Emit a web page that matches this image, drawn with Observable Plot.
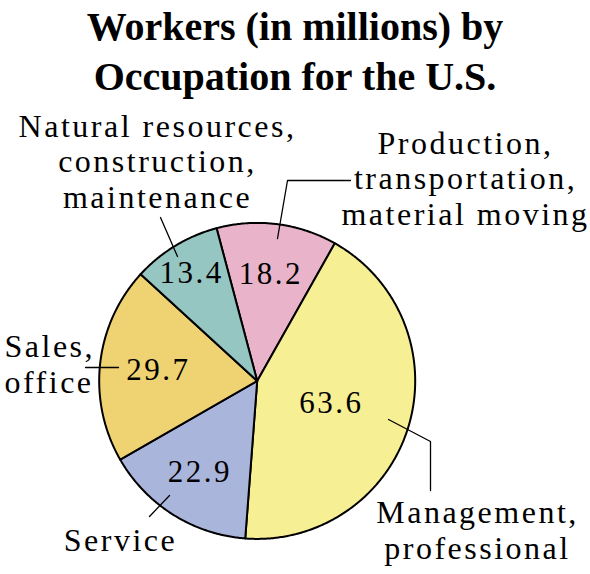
<!DOCTYPE html>
<html><head><meta charset="utf-8">
<script src="https://cdn.jsdelivr.net/npm/d3@7"></script>
<script src="https://cdn.jsdelivr.net/npm/@observablehq/plot@0.6"></script>
<style>
html,body{margin:0;padding:0;background:#fff;}
#title{width:590px;height:100px;box-sizing:border-box;padding-top:2px;text-align:center;font-family:'Liberation Serif','Times New Roman',serif;font-weight:bold;font-size:40px;line-height:50px;color:#000;}
#chart svg text{letter-spacing:2.5px;}
#chart svg g[font-size="32"] text{letter-spacing:2.5px;}
</style></head><body>
<div id="title">Workers (in millions) by<br>Occupation for the U.S.</div>
<div id="chart"></div>
<script>
// ---- data ----
const categories = ["Production", "Management", "Service", "Sales", "Natural resources"];
const labelTexts = [
  "Production,\ntransportation,\nmaterial moving",
  "Management,\nprofessional",
  "Service",
  "Sales,\noffice",
  "Natural resources,\nconstruction,\nmaintenance"
];
const workers = [18.2, 63.6, 22.9, 29.7, 13.4];
const colors = ["#e9b4c9", "#f7ef93", "#aab5dc", "#efd272", "#95c6c2"];

// ---- layout (pixels) ----
const W = 590, H = 474, TOP = 100;
const cx = 256.7, cy = 380.4, R = 158;
const startDeg = -14.9;
const valueRadius = [0.68, 0.49, 0.68, 0.63, 0.80];
const labelPos = [
  {x: 465, y: 224, anchor: "middle"},
  {x: 477, y: 558, anchor: "middle"},
  {x: 120, y: 550, anchor: "middle"},
  {x: 4, y: 392, anchor: "start"},
  {x: 157, y: 207, anchor: "middle"}
];
const leaders = [
  [[350, 180], [287, 180], [277, 238]],
  [[388, 419], [430, 441], [430, 490]],
  [[149, 516], [169, 495]],
  [[85, 367], [118, 367]],
  [[160, 217], [177, 256]]
];

// ---- geometry ----
const a0 = startDeg * Math.PI / 180;
const arcs = d3.pie().sort(null).startAngle(a0).endAngle(a0 + 2 * Math.PI)(workers);
const slicePts = [];
arcs.forEach((a, i) => {
  const cat = categories[i];
  slicePts.push({cat, x: cx, y: cy});
  const n = Math.max(2, Math.ceil((a.endAngle - a.startAngle) / (0.5 * Math.PI / 180)));
  for (let k = 0; k <= n; k++) {
    const t = a.startAngle + (a.endAngle - a.startAngle) * k / n;
    slicePts.push({cat, x: cx + R * Math.sin(t), y: cy - R * Math.cos(t)});
  }
});
const valuePts = arcs.map((a, i) => {
  const m = (a.startAngle + a.endAngle) / 2;
  return {x: cx + valueRadius[i] * R * Math.sin(m), y: cy - valueRadius[i] * R * Math.cos(m), text: workers[i].toFixed(1)};
});
const leaderPts = leaders.flatMap((pts, i) => pts.map(([x, y]) => ({id: i, x, y})));
const labelPts = labelTexts.map((t, i) => ({text: t, ...labelPos[i]}));

const font = "'Liberation Serif', 'Times New Roman', serif";
const plot = Plot.plot({
  width: W, height: H, margin: 0,
  x: {domain: [0, W], range: [0, W], axis: null},
  y: {domain: [TOP, TOP + H], range: [0, H], axis: null},
  color: {domain: categories, range: colors},
  style: {background: "#fff", overflow: "visible"},
  marks: [
    Plot.line(slicePts, {x: "x", y: "y", z: "cat", fill: "cat", stroke: "#000", strokeWidth: 2, curve: "linear-closed", strokeLinejoin: "round"}),
    Plot.line(leaderPts, {x: "x", y: "y", z: "id", stroke: "#000", strokeWidth: 1.3}),
    Plot.text(valuePts, {x: "x", y: "y", text: "text", fontSize: 31, fontFamily: font, fill: "#000"}),
    Plot.text(labelPts.filter(d => d.anchor === "middle"), {x: "x", y: "y", text: "text", fontSize: 32, fontFamily: font, fill: "#000", lineAnchor: "bottom", lineHeight: 1.1, textAnchor: "middle"}),
    Plot.text(labelPts.filter(d => d.anchor === "start"), {x: "x", y: "y", text: "text", fontSize: 32, fontFamily: font, fill: "#000", lineAnchor: "bottom", lineHeight: 1.1, textAnchor: "start"})
  ]
});
document.getElementById("chart").appendChild(plot);
</script>
</body></html>
